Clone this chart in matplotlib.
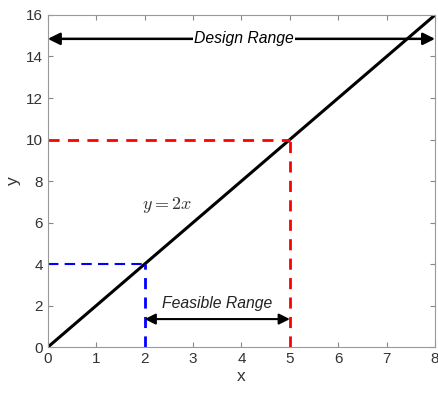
import numpy as np
import matplotlib.pyplot as plt

plt.rcParams['font.family'] = ['Liberation Sans', 'DejaVu Sans']
plt.rcParams['mathtext.fontset'] = 'cm'

x_line = [0, 8]
y_line = [0, 16]
x_feas = [2, 5]
y_feas = [4, 10]
design_range = [0, 8]
design_y = 14.85
feas_arrow_y = 1.35

fig = plt.figure(figsize=(4.39, 3.94), dpi=100)
ax = fig.add_axes([0.109, 0.119, 0.882, 0.843])

ax.plot(x_line, y_line, color='black', lw=2.2)
# red: upper bound
ax.plot([0, x_feas[1]], [y_feas[1], y_feas[1]], 'r--', lw=2, dashes=(4, 3))
ax.plot([x_feas[1], x_feas[1]], [0, y_feas[1]], 'r--', lw=2, dashes=(4, 3))
# blue: lower bound
ax.plot([0, x_feas[0]], [y_feas[0], y_feas[0]], 'b--', lw=1.5, dashes=(5, 3))
ax.plot([x_feas[0], x_feas[0]], [0, y_feas[0]], 'b--', lw=2, dashes=(4, 3))

ax.annotate('', xy=(design_range[0], design_y), xytext=(design_range[1], design_y),
            arrowprops=dict(arrowstyle='<|-|>', color='black', lw=1.8, mutation_scale=18, shrinkA=0, shrinkB=0))
ax.text(4.05, design_y, 'Design Range', ha='center', va='center', fontsize=11.3, style='italic',
        bbox=dict(facecolor='white', edgecolor='none', pad=1))

ax.annotate('', xy=(x_feas[0], feas_arrow_y), xytext=(x_feas[1], feas_arrow_y),
            arrowprops=dict(arrowstyle='<|-|>', color='black', lw=1.5, mutation_scale=16, shrinkA=0, shrinkB=0))
ax.text(3.5, 2.1, 'Feasible Range', ha='center', va='center', fontsize=11.3, style='italic', color='#222222')

ax.text(2.45, 6.85, r'$y = 2x$', ha='center', va='center', fontsize=13, color='#333333')

ax.set_xlim(0, 8)
ax.set_ylim(0, 16)
ax.set_xticks(range(0, 9))
ax.set_yticks(range(0, 17, 2))
ax.tick_params(direction='in', top=True, right=True, colors='#888888', labelcolor='#333333',
               labelsize=11, length=3.5)
for s in ax.spines.values():
    s.set_color('#999999')
ax.set_xlabel('x', fontsize=12.5, color='#333333', labelpad=2)
ax.set_ylabel('y', fontsize=12.5, color='#333333', labelpad=4)

fig.savefig('out.png', dpi=100)
